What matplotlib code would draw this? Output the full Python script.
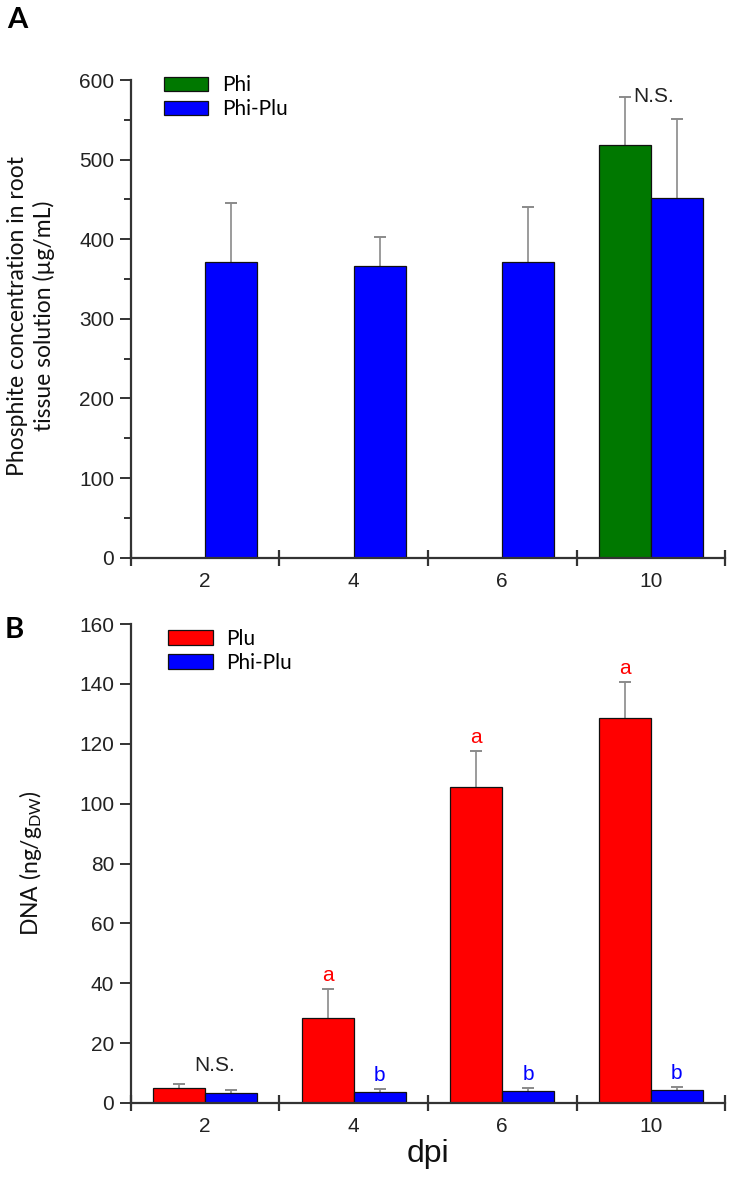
import matplotlib
matplotlib.use('Agg')
from matplotlib import pyplot as plt
import numpy as np

# data
days = ['2', '4', '6', '10']

phi = [0, 0, 0, 518]
phi_err = [0, 0, 0, 61]
phi_plu_a = [371, 366, 371, 452]
phi_plu_a_err = [74, 37, 69, 99]

plu = [5, 28.5, 105.5, 128.5]
plu_err = [1.5, 9.5, 12, 12]
phi_plu_b = [3.3, 3.6, 4.0, 4.4]
phi_plu_b_err = [1.0, 0.9, 0.9, 0.8]

sig_b_plu = ['', 'a', 'a', 'a']
sig_b_phiplu = ['', 'b', 'b', 'b']

plt.rcParams['font.family'] = ['Liberation Sans', 'DejaVu Sans']
plt.rcParams['mathtext.default'] = 'regular'

GREEN = '#007800'
BLUE = '#0000ff'
RED = '#ff0000'
ERR = '#8a8a8a'
AX = '#333333'
LABEL_FONT = ['Lato', 'DejaVu Sans']

fig = plt.figure(figsize=(7.33, 11.77), dpi=100)
axA = fig.add_axes([0.1787, 0.5262, 0.8104, 0.4058])
axB = fig.add_axes([0.1787, 0.0629, 0.8104, 0.4069])

x = np.arange(len(days))
w = 0.35


def err_up(ax, xs, ys, errs):
    for xi, yi, ei in zip(xs, ys, errs):
        if yi <= 0:
            continue
        ax.vlines(xi, yi, yi + ei, color=ERR, lw=1.2, zorder=1)
        ax.plot([xi], [yi + ei], marker='_', ms=9, mew=1.4, color=ERR, zorder=1)


def style(ax, ymax, step, minor):
    ax.set_xlim(-0.5, 3.5)
    ax.set_ylim(0, ymax)
    for s in ['top', 'right']:
        ax.spines[s].set_visible(False)
    for s in ['left', 'bottom']:
        ax.spines[s].set_linewidth(1.6)
        ax.spines[s].set_color(AX)
    ax.set_xticks(x)
    ax.set_xticklabels(days)
    ax.set_xticks(np.arange(-0.5, 4.0, 1.0), minor=True)
    ax.tick_params(axis='x', which='major', length=0, pad=10, labelsize=15, colors='#222222')
    ax.tick_params(axis='x', which='minor', direction='inout', length=11, width=1.6, color=AX)
    ax.set_yticks(np.arange(0, ymax + 1, step))
    if minor:
        ax.set_yticks(np.arange(step / 2, ymax, step), minor=True)
        ax.tick_params(axis='y', which='minor', direction='out', length=5, width=1.4, color=AX)
    ax.tick_params(axis='y', which='major', direction='out', length=8, width=1.4, color=AX,
                   pad=4, labelsize=15, labelcolor='#222222')


# Panel A
axA.bar(x - w / 2, phi, w, color=GREEN, edgecolor='#111111', lw=0.9, label='Phi', zorder=2)
axA.bar(x + w / 2, phi_plu_a, w, color=BLUE, edgecolor='#111111', lw=0.9, label='Phi-Plu', zorder=2)
err_up(axA, x - w / 2, phi, phi_err)
err_up(axA, x + w / 2, phi_plu_a, phi_plu_a_err)
style(axA, 600, 100, True)
axA.text(2.88, phi[3] + phi_err[3], 'N.S.', ha='left', va='center', fontsize=15, color='#222222')
axA.legend(loc='upper left', bbox_to_anchor=(0.055, 1.01), frameon=False, borderpad=0,
           borderaxespad=0, handlelength=2.15, handleheight=0.7, handletextpad=0.65,
           labelspacing=0.2, prop={'family': LABEL_FONT, 'size': 15})

# Panel B
axB.bar(x - w / 2, plu, w, color=RED, edgecolor='#111111', lw=0.9, label='Plu', zorder=2)
axB.bar(x + w / 2, phi_plu_b, w, color=BLUE, edgecolor='#111111', lw=0.9, label='Phi-Plu', zorder=2)
err_up(axB, x - w / 2, plu, plu_err)
err_up(axB, x + w / 2, phi_plu_b, phi_plu_b_err)
style(axB, 160, 20, False)
for i in range(len(days)):
    if sig_b_plu[i]:
        axB.annotate(sig_b_plu[i], (x[i] - w / 2, plu[i] + plu_err[i]), xytext=(0, 3),
                     textcoords='offset points', ha='center', va='bottom', fontsize=15, color=RED)
    if sig_b_phiplu[i]:
        axB.annotate(sig_b_phiplu[i], (x[i] + w / 2, phi_plu_b[i] + phi_plu_b_err[i]), xytext=(0, 3),
                     textcoords='offset points', ha='center', va='bottom', fontsize=15, color=BLUE)
axB.annotate('N.S.', (0.06, plu[0] + plu_err[0]), xytext=(0, 6), textcoords='offset points',
             ha='center', va='bottom', fontsize=15, color='#222222')
axB.legend(loc='upper left', bbox_to_anchor=(0.062, 0.99), frameon=False, borderpad=0,
           borderaxespad=0, handlelength=2.15, handleheight=0.7, handletextpad=0.65,
           labelspacing=0.2, prop={'family': LABEL_FONT, 'size': 15})
axB.set_xlabel('dpi', fontsize=23, labelpad=2, color='#111111')

# axis titles and panel letters
fig.text(31 / 733, 1 - 316 / 1177, 'Phosphite concentration in root\ntissue solution (\u00b5g/mL)',
         rotation=90, ha='center', va='center', fontsize=16.5, family=LABEL_FONT,
         linespacing=1.25, multialignment='center', color='#111111')
fig.text(30 / 733, 1 - 863 / 1177, 'DNA (ng/g$_{\\mathregular{DW}}$)', rotation=90,
         ha='center', va='center', fontsize=16.5, family=LABEL_FONT, color='#111111')
fig.text(7 / 733, 1 - 20 / 1177, 'A', ha='left', va='center', fontsize=21, fontweight='bold',
         family=LABEL_FONT)
fig.text(5 / 733, 1 - 630 / 1177, 'B', ha='left', va='center', fontsize=21, fontweight='bold',
         family=LABEL_FONT)

plt.savefig('out.png', dpi=100)
